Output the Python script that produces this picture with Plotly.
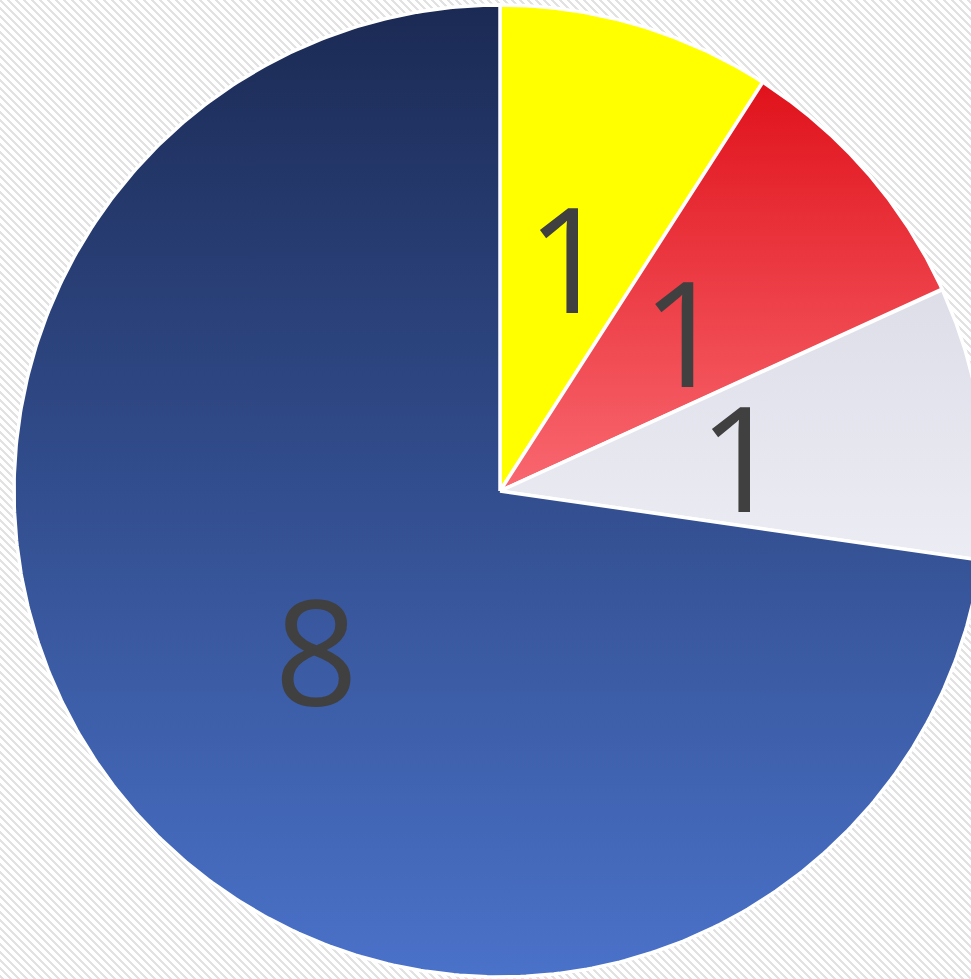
import base64
import numpy as np
import plotly.graph_objects as go

# ---- data ----
categories = ["A", "B", "C", "D"]
values = [1, 1, 1, 8]
top_colors = ["#ffff00", "#e0121b", "#dedee9", "#1b2a54"]
bottom_colors = ["#ffff00", "#f96870", "#ececf4", "#4a72c9"]

# ---- geometry of the chart (style, not data) ----
W, H = 971, 979
CX, CY = 500, 491          # pie centre in pixels
R = 486                    # radius in pixels
LABEL_R = 0.5
LABEL_DY = -19             # vertical nudge of label text (pixels)

# axis ranges so that 1 data unit == 1 pixel, centre at origin
x_range = [-CX, W - CX]
y_range = [-(H - CY), CY]

total = float(sum(values))
cum = np.cumsum([0] + values) / total * 2 * np.pi

fig = go.Figure()

for i, (cat, v) in enumerate(zip(categories, values)):
    a0, a1 = cum[i], cum[i + 1]
    th = np.linspace(a0, a1, 400)
    xs = np.concatenate([[0], R * np.sin(th), [0]])
    ys = np.concatenate([[0], R * np.cos(th), [0]])
    fig.add_trace(go.Scatter(
        x=xs, y=ys, mode="lines", fill="toself",
        line=dict(color="white", width=3.5),
        fillgradient=dict(type="vertical",
                          colorscale=[[0, bottom_colors[i]], [1, top_colors[i]]]),
        hoverinfo="skip", showlegend=False, name=cat,
    ))

# labels
mid = (cum[:-1] + cum[1:]) / 2
fig.add_trace(go.Scatter(
    x=LABEL_R * R * np.sin(mid), y=LABEL_R * R * np.cos(mid) + LABEL_DY,
    mode="text", text=[str(v) for v in values],
    textposition="middle center",
    textfont=dict(family="Open Sans, Segoe UI, DejaVu Sans, sans-serif", size=146, color="#404040"),
    hoverinfo="skip", showlegend=False,
))

# hatched background
svg = f'''<svg xmlns="http://www.w3.org/2000/svg" width="{W}" height="{H}">
<defs><pattern id="p" patternUnits="userSpaceOnUse" width="8" height="8">
<rect width="8" height="8" fill="#ffffff"/>
<path d="M-2,-2 L10,10 M-2,6 L2,10 M6,-2 L10,2" stroke="#e2e2e2" stroke-width="2.8" shape-rendering="crispEdges"/>
</pattern></defs>
<rect width="{W}" height="{H}" fill="url(#p)"/></svg>'''
src = "data:image/svg+xml;base64," + base64.b64encode(svg.encode()).decode()

fig.update_layout(
    width=W, height=H,
    margin=dict(l=0, r=0, t=0, b=0),
    paper_bgcolor="white", plot_bgcolor="rgba(0,0,0,0)",
    showlegend=False,
    xaxis=dict(range=x_range, visible=False, fixedrange=True),
    yaxis=dict(range=y_range, visible=False, fixedrange=True),
    images=[dict(source=src, xref="paper", yref="paper", x=0, y=1,
                 sizex=1, sizey=1, sizing="stretch", layer="below",
                 xanchor="left", yanchor="top")],
)

fig.write_html(
    "out.html",
    config={"displayModeBar": False},
    post_script="document.body.style.margin='0';document.body.style.overflow='hidden';",
)
